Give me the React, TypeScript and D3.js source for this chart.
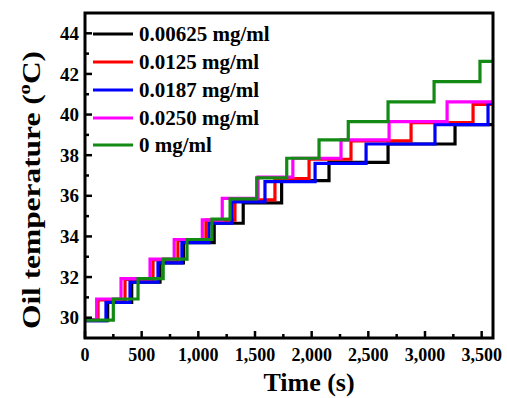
import React from "react";
import * as d3 from "d3";

// Series: step times (s) and plateau temperatures (°C)
const seriesNames = ["0.00625 mg/ml", "0.0125 mg/ml", "0.0187 mg/ml", "0.0250 mg/ml", "0 mg/ml"];
const seriesColors = ["#000000", "#ff0000", "#0000ff", "#ff00ff", "#138a13"];

const blackTimes = [0, 200, 412, 662, 868, 1140, 1396, 1735, 2153, 2674, 3265];
const blackTemps = [29.85, 30.75, 31.75, 32.7, 33.7, 34.65, 35.65, 36.75, 37.65, 38.55, 39.5];

const redTimes = [0, 115, 353, 600, 820, 1067, 1323, 1676, 1977, 2347, 2877, 3424];
const redTemps = [29.9, 30.88, 31.88, 32.85, 33.8, 34.8, 35.8, 36.85, 37.8, 38.7, 39.6, 40.5];

const blueTimes = [0, 185, 397, 644, 855, 1094, 1297, 1588, 2030, 2480, 3088, 3556];
const blueTemps = [29.85, 30.75, 31.75, 32.7, 33.7, 34.65, 35.7, 36.7, 37.6, 38.55, 39.5, 40.55];

const magentaTimes = [0, 103, 318, 574, 787, 1035, 1211, 1527, 1834, 2259, 2683, 3195];
const magentaTemps = [29.9, 30.92, 31.92, 32.88, 33.85, 34.82, 35.87, 36.92, 37.85, 38.75, 39.65, 40.62];

const greenTimes = [0, 250, 468, 690, 900, 1120, 1280, 1515, 1780, 2065, 2323, 2674, 3080, 3485];
const greenTemps = [29.88, 30.92, 31.92, 32.88, 33.85, 34.85, 35.85, 36.88, 37.85, 38.75, 39.65, 40.62, 41.62, 42.62];

const seriesTimes = [blackTimes, redTimes, blueTimes, magentaTimes, greenTimes];
const seriesTemps = [blackTemps, redTemps, blueTemps, magentaTemps, greenTemps];

const xMajorTicks = [0, 500, 1000, 1500, 2000, 2500, 3000, 3500];
const xMinorTicks = [250, 750, 1250, 1750, 2250, 2750, 3250];
const yMajorTicks = [30, 32, 34, 36, 38, 40, 42, 44];
const yMinorTicks = [31, 33, 35, 37, 39, 41, 43];

const X_MAX = 3600;

export default function App() {
  const W = 507, H = 398;
  const left = 85, right = 493, top = 13, bottom = 338;
  const x = d3.scaleLinear().domain([0, X_MAX]).range([left, right]);
  const y = d3.scaleLinear().domain([29, 45]).range([bottom, top]);
  const line = d3
    .line<[number, number]>()
    .x((d) => x(d[0]))
    .y((d) => y(d[1]))
    .curve(d3.curveStepAfter);
  const fmt = d3.format(",");
  const font = "'Liberation Serif', 'Times New Roman', serif";

  const paths = seriesTimes.map((times, i) => {
    const temps = seriesTemps[i];
    const pts: [number, number][] = times.map((t, j) => [t, temps[j]]);
    pts.push([X_MAX, temps[temps.length - 1]]);
    return line(pts) || "";
  });

  const legendY = [34, 62, 90, 118, 145];

  return (
    <svg
      width={W}
      height={H}
      style={{ position: "absolute", left: 0, top: 0, background: "#fff" }}
      fontFamily={font}
      fontWeight="bold"
    >
      <rect x={0} y={0} width={W} height={H} fill="#fff" />
      <defs>
        <clipPath id="plotclip">
          <rect x={left} y={top} width={right - left} height={bottom - top} />
        </clipPath>
      </defs>
      <g clipPath="url(#plotclip)">
        {paths.map((p, i) => (
          <path key={i} d={p} fill="none" stroke={seriesColors[i]} strokeWidth={3.2} />
        ))}
      </g>
      {/* frame */}
      <rect x={left} y={top} width={right - left} height={bottom - top} fill="none" stroke="#000" strokeWidth={3} />
      {/* y ticks */}
      {yMajorTicks.map((v) => (
        <g key={"ym" + v}>
          <line x1={left} x2={left + 7} y1={y(v)} y2={y(v)} stroke="#000" strokeWidth={2.5} />
          <text x={79} y={y(v)} dy="0.35em" textAnchor="end" fontSize={19}>
            {v}
          </text>
        </g>
      ))}
      {yMinorTicks.map((v) => (
        <line key={"yn" + v} x1={left} x2={left + 4} y1={y(v)} y2={y(v)} stroke="#000" strokeWidth={2.5} />
      ))}
      {/* x ticks */}
      {xMajorTicks.map((v) => (
        <g key={"xm" + v}>
          <line x1={x(v)} x2={x(v)} y1={bottom} y2={bottom - 7} stroke="#000" strokeWidth={2.5} />
          <text x={x(v)} y={361} textAnchor="middle" fontSize={18}>
            {fmt(v)}
          </text>
        </g>
      ))}
      {xMinorTicks.map((v) => (
        <line key={"xn" + v} x1={x(v)} x2={x(v)} y1={bottom} y2={bottom - 4} stroke="#000" strokeWidth={2.5} />
      ))}
      {/* axis titles */}
      <text x={309} y={391} textAnchor="middle" fontSize={26}>
        Time (s)
      </text>
      <text
        transform={`translate(40,190) rotate(-90)`}
        textAnchor="middle"
        fontSize={26}
        textLength={278}
        lengthAdjust="spacingAndGlyphs"
      >
        Oil temperature (
        <tspan fontSize={17} dy={-10}>o</tspan>
        <tspan dy={10}>C)</tspan>
      </text>
      {/* legend */}
      {seriesNames.map((name, i) => (
        <g key={name}>
          <line x1={93} x2={133} y1={legendY[i]} y2={legendY[i]} stroke={seriesColors[i]} strokeWidth={3} />
          <text x={139} y={legendY[i]} dy="0.35em" fontSize={21}>
            {name}
          </text>
        </g>
      ))}
    </svg>
  );
}
